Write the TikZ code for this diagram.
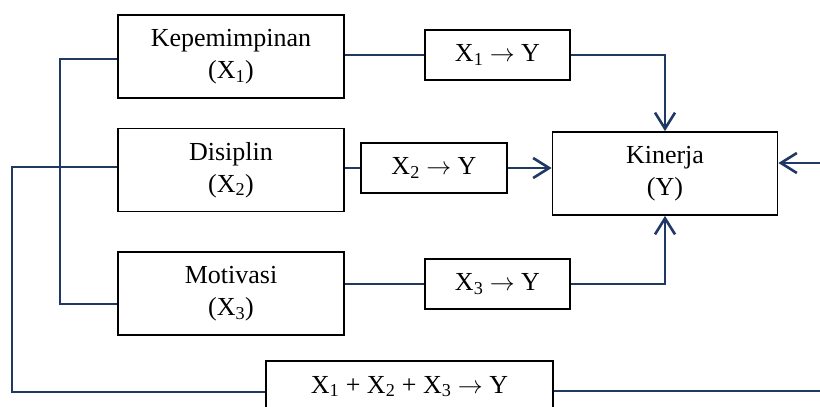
\documentclass[tikz,border=0pt]{standalone}
\usepackage{fontspec}
\setmainfont{Liberation Serif}
\usetikzlibrary{arrows.meta}
\definecolor{navy}{RGB}{31,56,100}
\tikzset{
  box/.style={draw=black, line width=1.8pt, inner sep=0pt, align=center,
    font=\fontsize{26}{32}\selectfont},
  conn/.style={draw=navy, line width=2.6pt},
  arr/.style={conn, -{Straight Barb[length=16pt,width=20pt,line width=2.6pt]}}
}
\newcommand{\sbs}[1]{\textsubscript{#1}}
\newcommand{\rarr}{\ensuremath{\rightarrow}}
\begin{document}
\begin{tikzpicture}[x=1pt,y=-1pt]
\useasboundingbox (0,0) rectangle (820,407);
\clip (0,0) rectangle (820,407);
\fill[white] (0,0) rectangle (820,407);
% boxes
\node[box, minimum width=226pt, minimum height=83pt] (K) at (231,56.5) {Kepemimpinan\\(X\sbs{1})};
\node[box, minimum width=226pt, minimum height=83pt] (D) at (231,170) {Disiplin\\(X\sbs{2})};
\node[box, minimum width=226pt, minimum height=83pt] (M) at (231,293.5) {Motivasi\\(X\sbs{3})};
\node[box, minimum width=145pt, minimum height=50pt] (A1) at (497.5,55) {X\sbs{1} \rarr{} Y};
\node[box, minimum width=146pt, minimum height=50pt] (A2) at (434,168) {X\sbs{2} \rarr{} Y};
\node[box, minimum width=145pt, minimum height=50pt] (A3) at (497.5,284) {X\sbs{3} \rarr{} Y};
\node[box, minimum width=225pt, minimum height=83pt] (Kin) at (665,173.5) {Kinerja\\(Y)};
\node[box, minimum width=287pt, minimum height=51pt] (B) at (409.5,386.5) {X\sbs{1} + X\sbs{2} + X\sbs{3} \rarr{} Y};
% coordinates
\coordinate (l1) at (60,59);
\coordinate (l2) at (60,304);
\coordinate (l3) at (12,167);
\coordinate (l4) at (12,392);
\coordinate (r1) at (835,391);
\coordinate (r2) at (835,163);
% connectors
\draw[conn] (K.east |- A1.west) -- (A1.west);
\draw[arr] (A1.east) -| (Kin.north);
\draw[conn] (A2.west -| D.east) -- (A2.west);
\draw[arr] (A2.east) -- (A2.east -| Kin.west);
\draw[conn] (A3.west -| M.east) -- (A3.west);
\draw[arr] (A3.east) -| (Kin.south);
\draw[conn] (l1 -| K.west) -- (l1) -- (l2) -- (l2 -| M.west);
\draw[conn] (l3 -| D.west) -- (l3) -- (l4) -- (l4 -| B.west);
\draw[arr] (r1 -| B.east) -- (r1) -- (r2) -- (r2 -| Kin.east);
\end{tikzpicture}
\end{document}
